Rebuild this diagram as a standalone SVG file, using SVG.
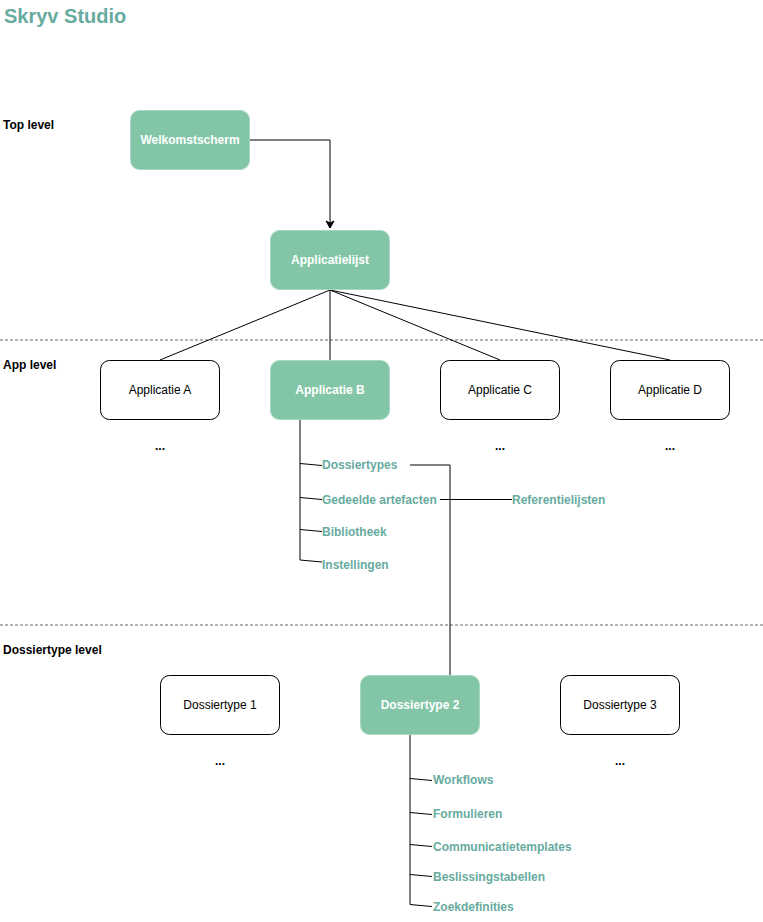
<svg xmlns="http://www.w3.org/2000/svg" width="763" height="922" viewBox="0 0 763 922">
<defs>
<style>
text{font-family:"Liberation Sans",Arial,sans-serif;}
.title{font-size:20px;font-weight:bold;fill:#67AB9F;}
.lvl{font-size:12px;font-weight:bold;fill:#000;}
.gbox{fill:#82C6A7;stroke:#A9D8C2;stroke-width:1;}
.wbox{fill:#fff;stroke:#000;stroke-width:1;}
.gt{font-size:12px;font-weight:bold;fill:#fff;text-anchor:middle;}
.wt{font-size:12px;fill:#000;text-anchor:middle;}
.sub{font-size:12px;font-weight:bold;fill:#67AB9F;}
.dots{font-size:12px;font-weight:bold;fill:#000;text-anchor:middle;}
.ln{fill:none;stroke:#000;stroke-width:1;}
.sep{stroke:#666;stroke-width:1;stroke-dasharray:3 2;}
</style>
<marker id="arr" markerWidth="10" markerHeight="10" refX="8" refY="5" orient="auto" markerUnits="userSpaceOnUse">
<path d="M1,1 L8,5 L1,9 L3,5 Z" fill="#000" stroke="#000" stroke-width="1"/>
</marker>
</defs>
<rect width="763" height="922" fill="#fff"/>
<text class="title" x="4" y="23">Skryv Studio</text>
<text class="lvl" x="3" y="129">Top level</text>
<text class="lvl" x="3" y="369">App level</text>
<text class="lvl" x="3" y="654">Dossiertype level</text>
<line class="sep" x1="0" y1="340" x2="763" y2="340"/>
<line class="sep" x1="0" y1="625" x2="763" y2="625"/>

<g id="connectors">
<path class="ln" d="M250,140 H330 V228" marker-end="url(#arr)"/>
<line class="ln" x1="330" y1="290" x2="160" y2="360"/>
<line class="ln" x1="330" y1="290" x2="330" y2="360"/>
<line class="ln" x1="330" y1="290" x2="500" y2="360"/>
<line class="ln" x1="330" y1="290" x2="670" y2="360"/>
<path class="ln" d="M300,420 V560 L322,562"/>
<line class="ln" x1="300" y1="463.5" x2="322" y2="465.5"/>
<line class="ln" x1="300" y1="497.5" x2="322" y2="499.5"/>
<line class="ln" x1="300" y1="529.5" x2="322" y2="531.5"/>
<path class="ln" d="M410,465 H450 V675"/>
<line class="ln" x1="440" y1="499.5" x2="512" y2="499.5"/>
<path class="ln" d="M410,735 V904.5 L432,906.5"/>
<line class="ln" x1="410" y1="778.5" x2="432" y2="780.5"/>
<line class="ln" x1="410" y1="812.5" x2="432" y2="814.5"/>
<line class="ln" x1="410" y1="844.5" x2="432" y2="846.5"/>
<line class="ln" x1="410" y1="874.5" x2="432" y2="876.5"/>
</g>

<g id="welkomstscherm"><rect class="gbox" x="130.5" y="110.5" width="119" height="59" rx="9"/><text class="gt" x="190" y="144">Welkomstscherm</text></g>
<g id="applicatielijst"><rect class="gbox" x="270.5" y="230.5" width="119" height="59" rx="9"/><text class="gt" x="330" y="264">Applicatielijst</text></g>

<g id="applicatie-a"><rect class="wbox" x="100.5" y="360.5" width="119" height="59" rx="9"/><text class="wt" x="160" y="394">Applicatie A</text></g>
<g id="applicatie-b"><rect class="gbox" x="270.5" y="360.5" width="119" height="59" rx="9"/><text class="gt" x="330" y="394">Applicatie B</text></g>
<g id="applicatie-c"><rect class="wbox" x="440.5" y="360.5" width="119" height="59" rx="9"/><text class="wt" x="500" y="394">Applicatie C</text></g>
<g id="applicatie-d"><rect class="wbox" x="610.5" y="360.5" width="119" height="59" rx="9"/><text class="wt" x="670" y="394">Applicatie D</text></g>
<text class="dots" x="160" y="450">...</text>
<text class="dots" x="500" y="450">...</text>
<text class="dots" x="670" y="450">...</text>

<g id="dossiertypes"><text class="sub" x="322" y="469">Dossiertypes</text></g>
<g id="gedeelde-artefacten"><text class="sub" x="322" y="504">Gedeelde artefacten</text></g>
<g id="referentielijsten"><text class="sub" x="512" y="504">Referentielijsten</text></g>
<g id="bibliotheek"><text class="sub" x="322" y="536">Bibliotheek</text></g>
<g id="instellingen"><text class="sub" x="322" y="569">Instellingen</text></g>

<g id="dossiertype-1"><rect class="wbox" x="160.5" y="675.5" width="119" height="59" rx="9"/><text class="wt" x="220" y="709">Dossiertype 1</text></g>
<g id="dossiertype-2"><rect class="gbox" x="360.5" y="675.5" width="119" height="59" rx="9"/><text class="gt" x="420" y="709">Dossiertype 2</text></g>
<g id="dossiertype-3"><rect class="wbox" x="560.5" y="675.5" width="119" height="59" rx="9"/><text class="wt" x="620" y="709">Dossiertype 3</text></g>
<text class="dots" x="220" y="765">...</text>
<text class="dots" x="620" y="765">...</text>

<g id="workflows"><text class="sub" x="433" y="784">Workflows</text></g>
<g id="formulieren"><text class="sub" x="433" y="818">Formulieren</text></g>
<g id="communicatietemplates"><text class="sub" x="433" y="851">Communicatietemplates</text></g>
<g id="beslissingstabellen"><text class="sub" x="433" y="881">Beslissingstabellen</text></g>
<g id="zoekdefinities"><text class="sub" x="433" y="911">Zoekdefinities</text></g>
</svg>
